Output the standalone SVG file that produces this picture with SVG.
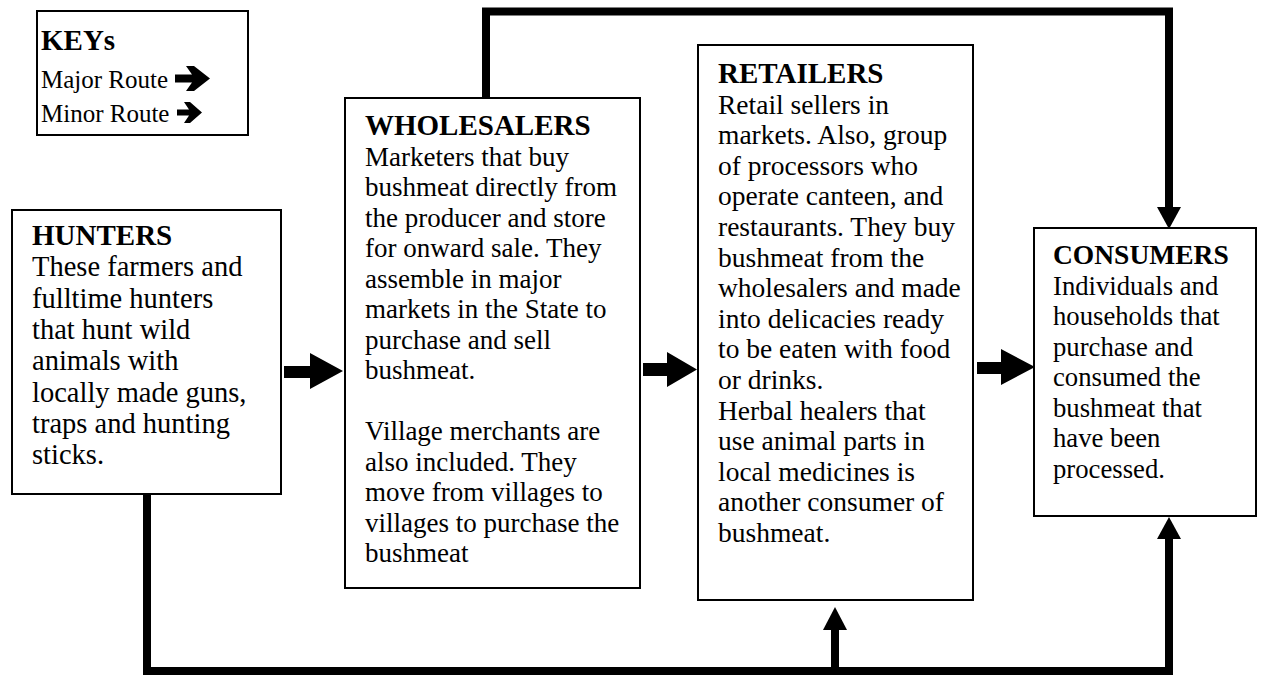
<svg xmlns="http://www.w3.org/2000/svg" width="1273" height="676" viewBox="0 0 1273 676">
  <style>
    .box { fill: #ffffff; stroke: #000000; stroke-width: 2; }
    .txt { font-family: "Liberation Serif", "Times New Roman", serif; font-size: 26.7px; fill: #000000; }
    .ttl { font-weight: bold; font-size: 29px; }
    .key { font-size: 25px; }
    .line { fill: none; stroke: #000000; stroke-width: 8; stroke-linejoin: miter; stroke-linecap: butt; }
    .head { fill: #000000; }
  </style>
  <rect width="1273" height="676" fill="#ffffff"/>

  <!-- Legend -->
  <g id="keys">
    <rect class="box" x="37" y="11" width="211" height="124"/>
    <text class="txt ttl" x="41" y="50">KEYs</text>
    <text class="txt key" x="41" y="88">Major Route</text>
    <text class="txt key" x="41" y="122">Minor Route</text>
    <polygon class="head" points="175,74.5 192,74.5 186,66 194,66 210,78.5 194,91 186,91 192,82.5 175,82.5"/>
    <polygon class="head" points="177,109.5 189,109.5 184,102 190,102 202,112.5 190,123 184,123 189,115.5 177,115.5"/>
  </g>

  <!-- Connectors -->
  <g id="connectors">
    <!-- wholesalers over the top to consumers -->
    <path class="line" d="M486,98 V11.5 H1169 V208"/>
    <polygon class="head" points="1157,207 1181,207 1169,229"/>
    <!-- hunters along the bottom to retailers and consumers -->
    <path class="line" d="M147,494 V671 H1169 V538"/>
    <polygon class="head" points="1157,539 1181,539 1169,517"/>
    <path class="line" d="M835,671 V628"/>
    <polygon class="head" points="823,630 847,630 835,607"/>
    <!-- block arrows between neighbouring boxes -->
    <polygon class="head" points="284,366 310,366 310,353 343,371 310,389 310,378 284,378"/>
    <polygon class="head" points="643,363 667,363 667,352 697,369.5 667,387 667,376 643,376"/>
    <polygon class="head" points="977,362 1001,362 1001,349 1035,367 1001,385 1001,374 977,374"/>
  </g>

  <g id="hunters">
    <rect class="box" x="12" y="210" width="269" height="284"/>
    <text class="txt" style="font-size:28.5px">
      <tspan class="ttl" x="32" y="245">HUNTERS</tspan>
      <tspan x="32" y="276.3">These farmers and</tspan>
      <tspan x="32" y="307.6">fulltime hunters</tspan>
      <tspan x="32" y="338.9">that hunt wild</tspan>
      <tspan x="32" y="370.2">animals with</tspan>
      <tspan x="32" y="401.5">locally made guns,</tspan>
      <tspan x="32" y="432.8">traps and hunting</tspan>
      <tspan x="32" y="464.1">sticks.</tspan>
    </text>
  </g>

  <g id="wholesalers">
    <rect class="box" x="345" y="98" width="295" height="490"/>
    <text class="txt" style="font-size:27px">
      <tspan class="ttl" x="365" y="135">WHOLESALERS</tspan>
      <tspan x="365" y="165.5">Marketers that buy</tspan>
      <tspan x="365" y="196">bushmeat directly from</tspan>
      <tspan x="365" y="226.5">the producer and store</tspan>
      <tspan x="365" y="257">for onward sale. They</tspan>
      <tspan x="365" y="287.5">assemble in major</tspan>
      <tspan x="365" y="318">markets in the State to</tspan>
      <tspan x="365" y="348.5">purchase and sell</tspan>
      <tspan x="365" y="379">bushmeat.</tspan>
      <tspan x="365" y="440">Village merchants are</tspan>
      <tspan x="365" y="470.5">also included. They</tspan>
      <tspan x="365" y="501">move from villages to</tspan>
      <tspan x="365" y="531.5">villages to purchase the</tspan>
      <tspan x="365" y="562">bushmeat</tspan>
    </text>
  </g>

  <g id="retailers">
    <rect class="box" x="698" y="45" width="275" height="555"/>
    <text class="txt" style="font-size:27.5px">
      <tspan class="ttl" x="718" y="83">RETAILERS</tspan>
      <tspan x="718" y="113.6">Retail sellers in</tspan>
      <tspan x="718" y="144.2">markets. Also, group</tspan>
      <tspan x="718" y="174.8">of processors who</tspan>
      <tspan x="718" y="205.4">operate canteen, and</tspan>
      <tspan x="718" y="236">restaurants. They buy</tspan>
      <tspan x="718" y="266.6">bushmeat from the</tspan>
      <tspan x="718" y="297.2">wholesalers and made</tspan>
      <tspan x="718" y="327.8">into delicacies ready</tspan>
      <tspan x="718" y="358.4">to be eaten with food</tspan>
      <tspan x="718" y="389">or drinks.</tspan>
      <tspan x="718" y="419.6">Herbal healers that</tspan>
      <tspan x="718" y="450.2">use animal parts in</tspan>
      <tspan x="718" y="480.8">local medicines is</tspan>
      <tspan x="718" y="511.4">another consumer of</tspan>
      <tspan x="718" y="542">bushmeat.</tspan>
    </text>
  </g>

  <g id="consumers">
    <rect class="box" x="1034" y="228" width="222" height="288"/>
    <text class="txt">
      <tspan class="ttl" x="1053" y="264" style="font-size:27.5px">CONSUMERS</tspan>
      <tspan x="1053" y="294.5">Individuals and</tspan>
      <tspan x="1053" y="325">households that</tspan>
      <tspan x="1053" y="355.5">purchase and</tspan>
      <tspan x="1053" y="386">consumed the</tspan>
      <tspan x="1053" y="416.5">bushmeat that</tspan>
      <tspan x="1053" y="447">have been</tspan>
      <tspan x="1053" y="477.5">processed.</tspan>
    </text>
  </g>
</svg>
